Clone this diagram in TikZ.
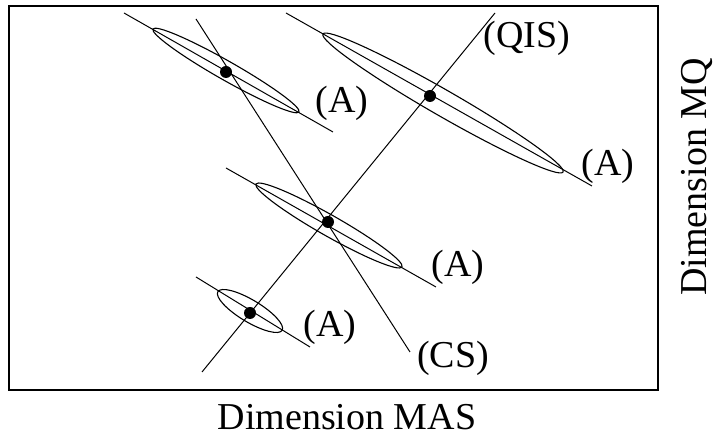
\documentclass[tikz,border=0pt]{standalone}
\usepackage{fontspec}
\setmainfont{Liberation Serif}
\usetikzlibrary{shapes.geometric}
\begin{document}
\begin{tikzpicture}[x=1pt,y=1pt,
  thinline/.style={line width=1pt},
  ell/.style={ellipse,draw,line width=1.1pt,inner sep=0pt},
  dotnode/.style={circle,fill=black,inner sep=0pt,minimum size=12pt},
  lbl/.style={font=\fontsize{38}{42}\selectfont,inner sep=0pt}]
\useasboundingbox (0,0) rectangle (716,438);
\draw[line width=2.5pt] (9,432) rectangle (658,48);
% axis lines of ellipses
\coordinate (a1s) at (124,425); \coordinate (a1e) at (333,306);
\coordinate (a2s) at (286,425); \coordinate (a2e) at (592,252);
\coordinate (a3s) at (226,270); \coordinate (a3e) at (436,151);
\coordinate (a4s) at (196,161); \coordinate (a4e) at (310,91);
\draw[thinline] (a1s) -- (a1e);
\draw[thinline] (a2s) -- (a2e);
\draw[thinline] (a3s) -- (a3e);
\draw[thinline] (a4s) -- (a4e);
% ellipses
\node[ell,minimum width=168pt,minimum height=19pt,rotate=-29.6] (e1) at (226,367.5) {};
\node[ell,minimum width=277pt,minimum height=26pt,rotate=-29.9] (e2) at (443,335) {};
\node[ell,minimum width=168pt,minimum height=21pt,rotate=-29.6] (e3) at (329,212.5) {};
\node[ell,minimum width=75pt,minimum height=22pt,rotate=-31] (e4) at (250,127) {};
% QIS and CS lines
\coordinate (qs) at (202,66); \coordinate (qe) at (495,425);
\coordinate (cs) at (196,419); \coordinate (ce) at (410,86);
\draw[thinline] (qs) -- (qe);
\draw[thinline] (cs) -- (ce);
% dots
\node[dotnode] (d1) at (226,366) {};
\node[dotnode] (d2) at (430,342) {};
\node[dotnode] (d3) at (328,216) {};
\node[dotnode] (d4) at (250,125) {};
% labels
\node[lbl] (l1) at (342,335) {(A)};
\node[lbl] (l2) at (608,272) {(A)};
\node[lbl] (l3) at (458,171) {(A)};
\node[lbl] (l4) at (330,111) {(A)};
\node[lbl] (lq) at (527,400) {(QIS)};
\node[lbl] (lc) at (453,80) {(CS)};
\node[lbl,anchor=base] (lx) at (347,8) {Dimension MAS};
\node[lbl,rotate=90,anchor=base] (ly) at (706,261) {Dimension MQ};
\end{tikzpicture}
\end{document}
